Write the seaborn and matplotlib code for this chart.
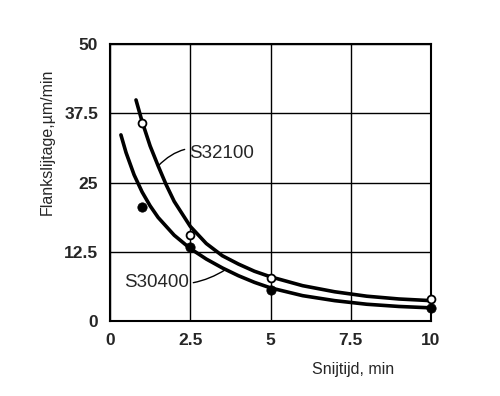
import seaborn as sns
import matplotlib.pyplot as plt

# Meetpunten (snijtijd in min, flankslijtage in um/min)
tijd = [1, 2.5, 5, 10]
s32100_punten = [35.7, 15.6, 7.8, 4.0]
s30400_punten = [20.6, 13.4, 5.6, 2.4]

# Getekende curves
s32100_curve_x = [0.81, 1.0, 1.25, 1.5, 1.75, 2.0, 2.5, 3.0, 3.5, 4.0, 4.5, 5.0, 6.0, 7.0, 8.0, 9.0, 10.0]
s32100_curve_y = [39.9, 36.0, 31.6, 28.0, 24.6, 21.6, 17.1, 14.0, 11.8, 10.3, 9.0, 8.0, 6.4, 5.3, 4.5, 4.0, 3.7]
s30400_curve_x = [0.34, 0.5, 0.75, 1.0, 1.25, 1.5, 2.0, 2.5, 3.0, 3.5, 4.0, 4.5, 5.0, 6.0, 7.0, 8.0, 9.0, 10.0]
s30400_curve_y = [33.6, 30.4, 26.4, 23.3, 20.8, 18.7, 15.5, 13.1, 11.2, 9.6, 8.2, 7.0, 6.0, 4.6, 3.7, 3.05, 2.65, 2.4]

x_ticks = [0, 2.5, 5, 7.5, 10]
x_labels = ['0', '2.5', '5', '7.5', '10']
y_ticks = [0, 12.5, 25, 37.5, 50]
y_labels = ['0', '12.5', '25', '37.5', '50']

sns.set_theme(style="white")
plt.rcParams['font.family'] = ['Liberation Sans', 'DejaVu Sans']
plt.rcParams['lines.solid_joinstyle'] = 'round'

fig = plt.figure(figsize=(5, 3.96), dpi=100)
ax = fig.add_axes([0.22, 0.189, 0.642, 0.70])

# curves
sns.lineplot(x=s32100_curve_x, y=s32100_curve_y, color='black', lw=2.6,
             sort=False, estimator=None, ax=ax, zorder=3)
sns.lineplot(x=s30400_curve_x, y=s30400_curve_y, color='black', lw=2.6,
             sort=False, estimator=None, ax=ax, zorder=3)

# meetpunten
sns.scatterplot(x=tijd, y=s30400_punten, color='black', s=45, edgecolor='black',
                ax=ax, zorder=4, clip_on=False)
sns.scatterplot(x=tijd, y=s32100_punten, color='white', s=32, edgecolor='black',
                linewidth=1.3, ax=ax, zorder=5, clip_on=False)

ax.set_xlim(0, 10)
ax.set_ylim(0, 50)
ax.set_xticks(x_ticks, x_labels, fontweight='bold', fontsize=12.5)
ax.set_yticks(y_ticks, y_labels, fontweight='bold', fontsize=12.5)
ax.tick_params(length=0, pad=8.5)
ax.grid(True, color='black', lw=1.0)
ax.set_axisbelow(True)
for sp in ax.spines.values():
    sp.set_visible(True)
    sp.set_color('black')
    sp.set_linewidth(1.5)

# labels
ax.set_xlabel('Snijtijd, min', fontsize=11.5)
ax.xaxis.set_label_coords(0.757, -0.148)
ax.set_ylabel('Flankslijtage,µm/min', fontsize=11.5)
ax.yaxis.set_label_coords(-0.171, 0.646)

# curve-namen
ax.annotate('S32100', xy=(1.5, 28.0), xytext=(2.47, 30.2), fontsize=13.5,
            ha='left', va='center',
            arrowprops=dict(arrowstyle='-', color='black', lw=1.0,
                            connectionstyle='arc3,rad=0.35', shrinkA=1, shrinkB=0))
ax.annotate('S30400', xy=(3.6, 9.3), xytext=(2.45, 7.0), fontsize=13.5,
            ha='right', va='center',
            arrowprops=dict(arrowstyle='-', color='black', lw=1.0,
                            connectionstyle='arc3,rad=0.2', shrinkA=1, shrinkB=0))

plt.savefig('out.png', dpi=100)
